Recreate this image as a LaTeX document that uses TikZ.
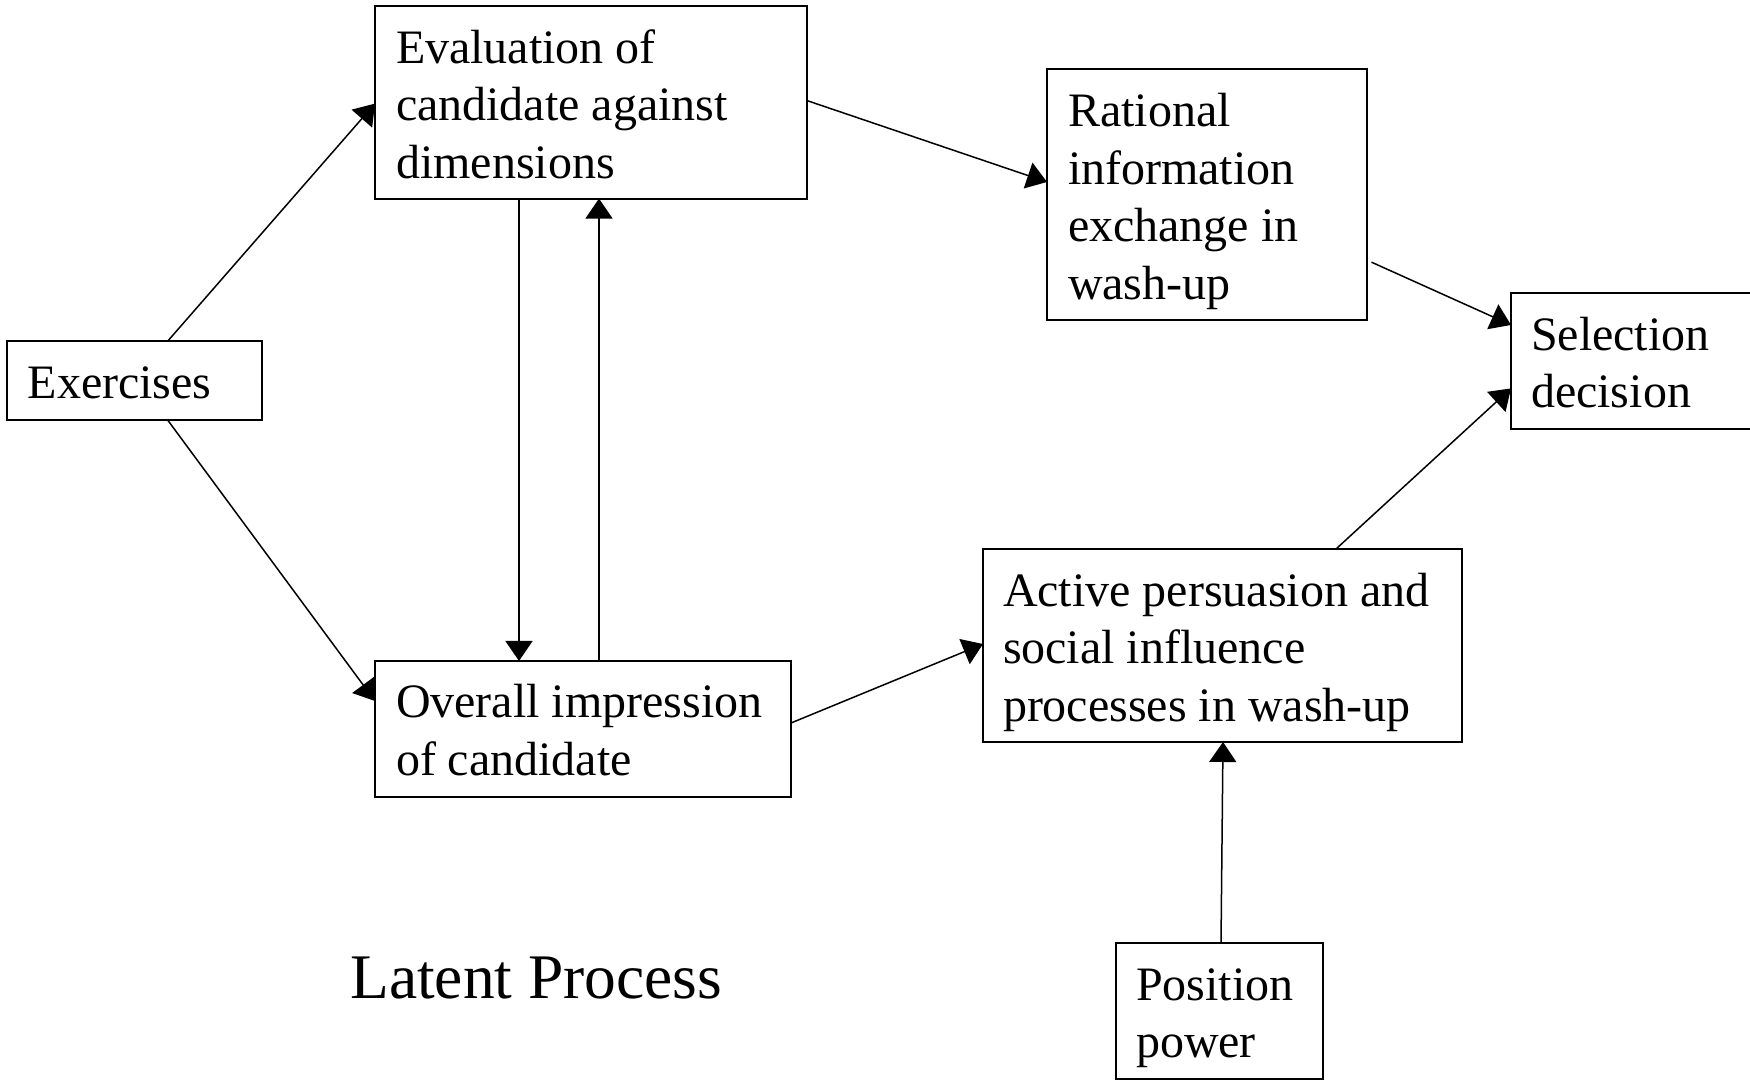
\documentclass[tikz,border=0pt]{standalone}
\usepackage{fontspec}
\setmainfont{Liberation Serif}
\usetikzlibrary{arrows.meta}
\begin{document}
\begin{tikzpicture}[x=1pt,y=1pt,
  box/.style={draw, line width=2pt, anchor=north west, inner sep=0pt, outer sep=0pt},
  lbl/.style={anchor=base west, inner sep=0pt, outer sep=0pt, font=\fontsize{48}{57.5}\selectfont},
  arr/.style={line width=1.5pt, -{Triangle[length=20pt,width=27pt]}},
  big/.style={anchor=base west, inner sep=0pt, font=\fontsize{63.5}{76}\selectfont}]
\useasboundingbox (0,0) rectangle (1750,1081);
% boxes
\node[box, minimum width=255.6pt, minimum height=78.2pt] (ex) at (6.7,739.5) {};
\node[box, minimum width=432pt, minimum height=193pt] (ev) at (375,1075.4) {};
\node[box, minimum width=319.5pt, minimum height=251pt] (ra) at (1047,1011.8) {};
\node[box, minimum width=260pt, minimum height=136.6pt] (se) at (1511,788.3) {};
\node[box, minimum width=479pt, minimum height=193pt] (ac) at (983,532) {};
\node[box, minimum width=416pt, minimum height=136pt] (ov) at (375,420) {};
\node[box, minimum width=207pt, minimum height=136.3pt] (po) at (1116,138) {};
% texts
\node[lbl] (tex) at ([shift={(21pt,-57.5pt)}]ex.north west) {Exercises};
\node[lbl] (tev) at ([shift={(21pt,-57.5pt)}]ev.north west) {\parbox[t]{500pt}{\raggedright Evaluation of\\candidate against\\dimensions}};
\node[lbl] (tra) at ([shift={(21pt,-57.5pt)}]ra.north west) {\parbox[t]{500pt}{\raggedright Rational\\information\\exchange in\\wash-up}};
\node[lbl] (tse) at ([shift={(20pt,-57.5pt)}]se.north west) {\parbox[t]{500pt}{\raggedright Selection\\decision}};
\node[lbl] (tac) at ([shift={(20pt,-57.5pt)}]ac.north west) {\parbox[t]{600pt}{\raggedright Active persuasion and\\social influence\\processes in wash-up}};
\node[lbl] (tov) at ([shift={(21pt,-57pt)}]ov.north west) {\parbox[t]{500pt}{\raggedright Overall impression\\of candidate}};
\node[lbl] (tpo) at ([shift={(20pt,-57.5pt)}]po.north west) {\parbox[t]{500pt}{\raggedright Position\\power}};
\node[big] (lat) at (350,82) {Latent Process};
% connectors
\draw[arr] ([xshift=160.7pt]ex.north west) -- ([yshift=-98pt]ev.north west);
\draw[arr] ([xshift=160.7pt]ex.south west) -- ([yshift=-40pt]ov.north west);
\draw[arr] ([xshift=144pt]ev.south west) -- ([xshift=144pt]ov.north west);
\draw[arr] ([xshift=224pt]ov.north west) -- ([xshift=224pt]ev.south west);
\draw[arr] ([yshift=-95pt]ev.north east) -- ([yshift=-112.8pt]ra.north west);
\draw[arr] ([shift={(5pt,-193pt)}]ra.north east) -- ([yshift=-32.3pt]se.north west);
\draw[arr] ([xshift=353pt]ac.north west) -- ([yshift=-95.7pt]se.north west);
\draw[arr] ([yshift=-62pt]ov.north east) -- ([yshift=-95pt]ac.north west);
\draw[arr] ([xshift=105pt]po.north west) -- ([xshift=240pt]ac.south west);
\end{tikzpicture}
\end{document}
